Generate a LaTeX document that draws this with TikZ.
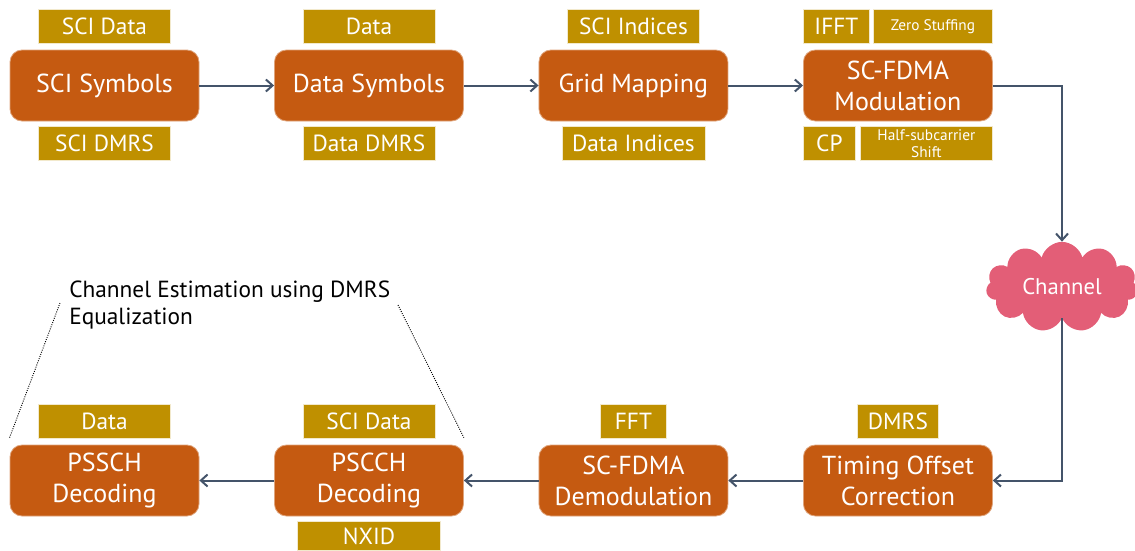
\documentclass[tikz,border=0pt]{standalone}
\usepackage{fontspec}
\setmainfont{PT Sans}
\usetikzlibrary{shapes.symbols, arrows.meta, positioning}
\definecolor{blockorange}{RGB}{197, 90, 17}
\definecolor{taggold}{RGB}{191, 144, 0}
\definecolor{cloudpink}{RGB}{227, 94, 119}
\definecolor{arrowslate}{RGB}{68, 84, 106}

\begin{document}
\begin{tikzpicture}[
  x=0.75pt, y=-0.75pt,
  block/.style={rectangle, rounded corners=9pt, draw=blockorange!55!white, line width=0.6pt,
                fill=blockorange, text=white, minimum width=141.75pt, minimum height=53.25pt,
                align=center, inner sep=0pt, font=\fontsize{19.5}{23.25}\selectfont},
  tag/.style={rectangle, draw=taggold!20!white, line width=0.6pt, fill=taggold, text=white,
              minimum width=99pt, minimum height=25.5pt, inner sep=0pt,
              font=\fontsize{17.5}{20}\selectfont},
  smalltag/.style={tag, align=center, font=\fontsize{11.5}{12.75}\selectfont},
  channel/.style={cloud, cloud puffs=11, aspect=1.9, fill=cloudpink, text=white,
                  minimum width=114pt, minimum height=60pt, font=\fontsize{17}{19}\selectfont},
  arrow/.style={-{Straight Barb[length=5pt, width=9pt]}, line width=1.5pt, color=arrowslate},
  dotline/.style={densely dotted, line width=0.7pt, black},
]
  \useasboundingbox (0,0) rectangle (1135,550);

  % transmitter chain
  \node[block] (scisym) at (104.5,85.5) {SCI Symbols};
  \node[block, right=56pt of scisym] (datasym) {Data Symbols};
  \node[block, right=56pt of datasym] (gridmap) {Grid Mapping};
  \node[block, right=56pt of gridmap] (scmod) {SC-FDMA\\Modulation};

  \node[tag, above=4.5pt of scisym] (scidata) {SCI Data};
  \node[tag, below=3.75pt of scisym] (scidmrs) {SCI DMRS};
  \node[tag, above=4.5pt of datasym] (datain) {Data};
  \node[tag, below=3.75pt of datasym] (datadmrs) {Data DMRS};
  \node[tag, above=4.5pt of gridmap] (sciidx) {SCI Indices};
  \node[tag, below=3.75pt of gridmap, minimum width=107.25pt] (dataidx) {Data Indices};
  \node[tag, above right=4.5pt and 0pt of scmod.north west, minimum width=49.5pt] (ifft) {IFFT};
  \node[smalltag, above left=4.5pt and 0pt of scmod.north east, minimum width=89.25pt] (zerostuff) {Zero Stuffing};
  \node[tag, below right=3.75pt and 0pt of scmod.south west, minimum width=39pt] (cp) {CP};
  \node[smalltag, below left=3.75pt and 0pt of scmod.south east] (halfshift) {Half-subcarrier\\Shift};

  \node[channel] (chan) at (1062,287) {Channel};

  % receiver chain
  \node[block] (pssch) at (104.5,480.5) {PSSCH\\Decoding};
  \node[block, right=56pt of pssch] (pscch) {PSCCH\\Decoding};
  \node[block, right=56pt of pscch] (scdemod) {SC-FDMA\\Demodulation};
  \node[block, right=56pt of scdemod] (timing) {Timing Offset\\Correction};

  \node[tag, above=4.5pt of pssch] (dataout) {Data};
  \node[tag, above=4.5pt of pscch] (scidataout) {SCI Data};
  \node[tag, below=3.75pt of pscch, minimum width=107.25pt, minimum height=21.75pt] (nxid) {NXID};
  \node[tag, above=4.5pt of scdemod, minimum width=49.5pt] (fft) {FFT};
  \node[tag, above=4.5pt of timing, minimum width=60.75pt] (dmrs) {DMRS};

  \node[anchor=west, align=left, inner sep=0pt, font=\fontsize{17.5}{20}\selectfont]
    (estnote) at (69,305) {Channel Estimation using DMRS\\Equalization};
  \coordinate (estleft) at (60,303);
  \coordinate (estright) at (398,305);
  \draw[dotline] (estleft) -- ([yshift=5.25pt]pssch.north west);
  \draw[dotline] (estright) -- ([yshift=5.25pt]pscch.north east);

  \draw[arrow] (scisym) -- (datasym);
  \draw[arrow] (datasym) -- (gridmap);
  \draw[arrow] (gridmap) -- (scmod);
  \draw[arrow] (scmod.east) -| (chan.north);
  \draw[arrow] (chan.south) |- (timing.east);
  \draw[arrow] (timing) -- (scdemod);
  \draw[arrow] (scdemod) -- (pscch);
  \draw[arrow] (pscch) -- (pssch);
\end{tikzpicture}
\end{document}
